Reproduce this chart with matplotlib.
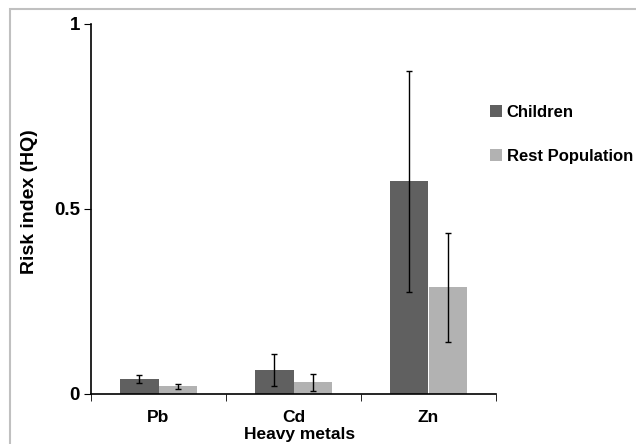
import matplotlib
matplotlib.use('Agg')
import matplotlib.pyplot as plt
import numpy as np
from matplotlib.patches import Rectangle

metals = ['Pb', 'Cd', 'Zn']
children = [0.040, 0.063, 0.574]
children_err = [0.011, 0.043, 0.299]
rest = [0.019, 0.030, 0.287]
rest_err = [0.006, 0.022, 0.148]

plt.rcParams['font.family'] = ['Liberation Sans', 'DejaVu Sans']
plt.rcParams['font.weight'] = 'bold'

fig = plt.figure(figsize=(6.36, 4.44), dpi=100)
W, H = 636, 444
ax = fig.add_axes([91 / W, (H - 393.5) / H, (496 - 91) / W, (393.5 - 24) / H])

# marco gris de la figura
fig.patches.append(Rectangle((10 / W, -0.1), 1.2, (H - 9.5) / H + 0.1,
                             transform=fig.transFigure, fill=False,
                             edgecolor='#c0c0c0', linewidth=1.5))

x = np.arange(len(metals))
w = 0.285
err_kw = dict(ecolor='black', elinewidth=1, capsize=2, capthick=1)
ax.bar(x - w / 2, children, w, yerr=children_err, color='#606060',
       label='Children', error_kw=err_kw)
ax.bar(x + w / 2, rest, w, yerr=rest_err, color='#b2b2b2',
       label='Rest Population', error_kw=err_kw)

ax.set_xlim(-0.5, 2.5)
ax.set_ylim(0, 1)
ax.set_yticks([0, 0.5, 1])
ax.set_yticklabels(['0', '0.5', '1'])
ax.set_xticks(x)
ax.set_xticklabels(metals)
ax.tick_params(axis='x', which='major', length=0, pad=12, labelsize=12.5)
ax.set_xticks([-0.5, 0.5, 1.5, 2.5], minor=True)
ax.tick_params(axis='x', which='minor', length=5, direction='out')
ax.tick_params(axis='y', length=5, direction='out', labelsize=13.5, pad=3)

for s in ['top', 'right']:
    ax.spines[s].set_visible(False)
ax.spines['left'].set_linewidth(1.2)
ax.spines['bottom'].set_linewidth(1.2)

ax.set_xlabel('Heavy metals', fontsize=12.5, fontweight='bold')
ax.xaxis.set_label_coords((300 - 91) / 405, -(427 - 393.5) / 369.5)
ax.set_ylabel('Risk index (HQ)', fontsize=14, fontweight='bold')
ax.yaxis.set_label_coords((38 - 91) / 405, 0.52)

ax.legend(loc='upper left', bbox_to_anchor=(490 / W, (H - 105) / H),
          bbox_transform=fig.transFigure, frameon=False, fontsize=12,
          handlelength=0.7, handleheight=0.7, handletextpad=0.3,
          labelspacing=1.75, borderaxespad=0, borderpad=0)

fig.savefig('out.png', dpi=100)
